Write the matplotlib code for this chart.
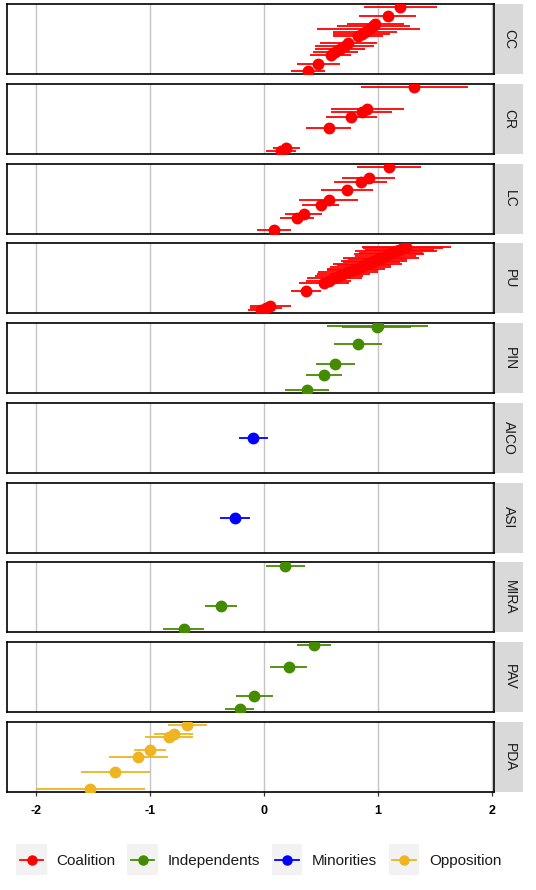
import matplotlib.pyplot as plt
from matplotlib.lines import Line2D
from matplotlib.patches import Rectangle

plt.rcParams['font.family'] = ['Liberation Sans', 'DejaVu Sans']
plt.rcParams['axes.unicode_minus'] = False

# panels (top to bottom) and the bloc each belongs to
parties = ['CC', 'CR', 'LC', 'PU', 'PIN', 'AICO', 'ASI', 'MIRA', 'PAV', 'PDA']
party_bloc = ['Coalition', 'Coalition', 'Coalition', 'Coalition', 'Independents',
              'Minorities', 'Minorities', 'Independents', 'Independents', 'Opposition']

bloc_names = ['Coalition', 'Independents', 'Minorities', 'Opposition']
bloc_colors = ['#FF0000', '#458B00', '#0000FF', '#EEB422']

# estimates and half-widths of the intervals
cc_est = [1.20, 1.09, 0.98, 0.96, 0.92, 0.89, 0.86, 0.83, 0.74, 0.71, 0.67, 0.63, 0.59, 0.48, 0.39]
cc_ci = [0.32, 0.25, 0.25, 0.32, 0.45, 0.28, 0.25, 0.22, 0.25, 0.26, 0.22, 0.20, 0.18, 0.19, 0.15]

cr_est = [1.32, 0.91, 0.86, 0.77, 0.57, 0.20, 0.15]
cr_ci = [0.47, 0.32, 0.27, 0.22, 0.20, 0.12, 0.13]

lc_est = [1.10, 0.92, 0.85, 0.73, 0.57, 0.50, 0.35, 0.29, 0.09]
lc_ci = [0.28, 0.23, 0.23, 0.23, 0.26, 0.16, 0.16, 0.15, 0.15]

pu_est = [1.25, 1.22, 1.19, 1.16, 1.12, 1.10, 1.07, 1.03, 1.00, 0.97, 0.95, 0.91, 0.88,
          0.85, 0.81, 0.78, 0.74, 0.70, 0.66, 0.62, 0.57, 0.53, 0.37, 0.06, 0.02, -0.02]
pu_ci = [0.39, 0.35, 0.30, 0.36, 0.28, 0.31, 0.27, 0.33, 0.26, 0.29, 0.25, 0.30, 0.24,
         0.27, 0.25, 0.22, 0.26, 0.23, 0.21, 0.24, 0.20, 0.22, 0.13, 0.18, 0.14, 0.12]

pin_est = [1.00, 0.99, 0.83, 0.63, 0.53, 0.38]
pin_ci = [0.44, 0.30, 0.21, 0.17, 0.16, 0.19]

aico_est = [-0.09]
aico_ci = [0.13]

asi_est = [-0.25]
asi_ci = [0.13]

mira_est = [0.19, -0.37, -0.70]
mira_ci = [0.17, 0.14, 0.18]

pav_est = [0.44, 0.22, -0.08, -0.21]
pav_ci = [0.15, 0.16, 0.16, 0.13]

pda_est = [-0.67, -0.79, -0.83, -1.00, -1.10, -1.30, -1.52]
pda_ci = [0.17, 0.17, 0.21, 0.14, 0.26, 0.30, 0.48]

all_est = [cc_est, cr_est, lc_est, pu_est, pin_est, aico_est, asi_est, mira_est, pav_est, pda_est]
all_ci = [cc_ci, cr_ci, lc_ci, pu_ci, pin_ci, aico_ci, asi_ci, mira_ci, pav_ci, pda_ci]


class KeyHandler:
    # grey square key with a short line and a dot, centred on the label
    def legend_artist(self, legend, orig_handle, fontsize, handlebox):
        x0, y0 = handlebox.xdescent, handlebox.ydescent
        w, h = handlebox.width, handlebox.height
        yc = y0 + h / 2
        tr = handlebox.get_transform()
        c = orig_handle.get_color()
        box = Rectangle((x0, yc - w / 2), w, w, facecolor='#F2F2F2', edgecolor='none', transform=tr)
        line = Line2D([x0 + 0.12 * w, x0 + 0.88 * w], [yc, yc], color=c, lw=1.3, transform=tr)
        dot = Line2D([x0 + w / 2], [yc], color=c, marker='o', ms=6.5, transform=tr)
        handlebox.add_artist(box)
        handlebox.add_artist(line)
        handlebox.add_artist(dot)
        return box


W, H = 536, 890
fig, axes = plt.subplots(len(parties), 1, figsize=(W / 100, H / 100), dpi=100,
                         gridspec_kw={'hspace': 0.14})
fig.subplots_adjust(left=7 / W, right=494 / W, top=1 - 4 / H, bottom=1 - 792 / H)

for i, ax in enumerate(axes):
    est = all_est[i]
    ci = all_ci[i]
    color = bloc_colors[bloc_names.index(party_bloc[i])]

    ax.errorbar(est, est, xerr=ci, fmt='o', color=color, ecolor=color,
                ms=7.5, elinewidth=1.3, capsize=0, zorder=3)

    lo, hi = min(est), max(est)
    if hi - lo < 1e-9:
        ax.set_ylim(lo - 1, hi + 1)
    else:
        pad = (hi - lo) * 0.05
        ax.set_ylim(lo - pad, hi + pad)

    ax.set_xlim(-2.25, 2.02)
    ax.set_xticks([-2, -1, 0, 1, 2])
    ax.set_yticks([])
    ax.grid(axis='x', color='#C4C4C4', linewidth=1.0, zorder=0)
    ax.set_axisbelow(True)
    for sp in ax.spines.values():
        sp.set_color('black')
        sp.set_linewidth(1.2)

    if i < len(parties) - 1:
        ax.tick_params(axis='x', length=0, labelbottom=False)
    else:
        ax.tick_params(axis='x', length=3, width=0.9, color='#333333', pad=6)
        for lab in ax.get_xticklabels():
            lab.set_fontsize(9)
            lab.set_fontweight('bold')
            lab.set_color('black')

    # facet strip on the right
    strip = ax.inset_axes([1.003, 0, 28 / 487, 1])
    strip.set_facecolor('#D9D9D9')
    strip.set_xticks([])
    strip.set_yticks([])
    for sp in strip.spines.values():
        sp.set_visible(False)
    strip.text(0.5, 0.5, parties[i], rotation=270, ha='center', va='center',
               fontsize=10, color='#1A1A1A', transform=strip.transAxes)

handles = [Line2D([], [], color=c) for c in bloc_colors]
fig.legend(handles, bloc_names, handler_map={Line2D: KeyHandler()},
           loc='center', bbox_to_anchor=(0.483, 1 - 861 / H), ncol=4, frameon=False,
           fontsize=11, handlelength=2.0, handletextpad=0.65,
           columnspacing=0.75, labelcolor='#1A1A1A')

plt.savefig('out.png', dpi=100)
plt.close()
